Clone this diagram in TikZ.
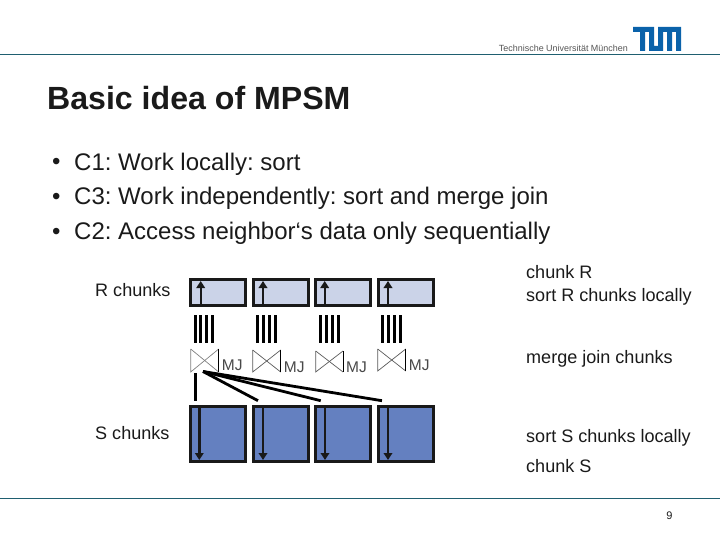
\documentclass[tikz,border=0pt]{standalone}
\usepackage{fontspec}
\setmainfont{Liberation Sans}
\usetikzlibrary{arrows.meta}
\frenchspacing
\definecolor{rline}{HTML}{1F5F70}
\definecolor{rfill}{HTML}{CBD3E8}
\definecolor{sfill}{HTML}{6480C0}
\definecolor{tumblue}{HTML}{0A62AA}
\definecolor{ink}{HTML}{1A1A1A}
\tikzset{
  chunkbox/.style={draw=black!90,line width=3.3pt,fill=#1,inner sep=0pt,outer sep=0pt,anchor=north west},
  bar/.style={draw=black,line width=3pt},
  flow/.style={draw=black!90,line width=2.4pt,-{Triangle[length=7pt,width=8.5pt]}},
  link/.style={draw=black,line width=2.8pt},
  tie/.style={draw=#1,line width=0.7pt},
  body/.style={font=\fontsize{24}{28}\selectfont,text=ink,anchor=west,inner sep=0pt},
  small/.style={font=\fontsize{18.05}{21}\selectfont,text=ink,anchor=west,inner sep=0pt},
  mj/.style={font=\fontsize{15.5}{18}\selectfont,text=ink!80,anchor=west,inner sep=0pt},
}
\begin{document}
\begin{tikzpicture}[x=1pt,y=-1pt]
\useasboundingbox (0,0) rectangle (720,540);
% frame
\draw[rline,line width=0.9pt] (0,54.5) -- (720,54.5);
\draw[rline,line width=0.9pt] (0,498) -- (720,498);
\node[anchor=east,inner sep=0pt,font=\fontsize{8.95}{11}\selectfont,text=ink!75] (uni) at (628,48) {Technische Universität München};
% logo
\fill[tumblue] (633,27) -- (654,27) -- (654,46) -- (658,46) -- (658,27) -- (681,27) -- (681,51) -- (676,51) -- (676,32) -- (672,32) -- (672,51) -- (667,51) -- (667,32) -- (663,32) -- (663,51) -- (649,51) -- (649,32) -- (645,32) -- (645,51) -- (640,51) -- (640,32) -- (633,32) -- cycle;
% title
\node[anchor=west,inner sep=0pt,font=\bfseries\fontsize{32.1}{36}\selectfont,text=ink] (title) at (47,98) {Basic idea of MPSM};
% bullets
\node[body] (d1) at (52,164) {•};
\node[body] (d2) at (52,198.5) {•};
\node[body] (d3) at (52,233.5) {•};
\node[body] (b1) at (74,164) {C1: Work locally: sort};
\node[body] (b2) at (74,198.5) {C3: Work independently: sort and merge join};
\node[body] (b3) at (74,233.5) {C2: Access neighbor‘s data only sequentially};
% chunk boxes
\foreach \n/\x in {1/190.7,2/253.7,3/315.7,4/378.7}{
  \node[chunkbox=rfill,minimum width=55pt,minimum height=26pt] (r\n) at (\x,279.7) {};
  \node[chunkbox=sfill,minimum width=55pt,minimum height=55pt] (s\n) at (\x,406.7) {};
}
% arrows inside boxes
\foreach \n/\x in {1/200.7,2/263,3/324.7,4/388}{
  \coordinate (ru\n) at (\x,305); \coordinate (rv\n) at (\x,281);
  \draw[flow] (ru\n) -- (rv\n);
}
\foreach \n/\x in {1/199.3,2/263,3/325,4/388}{
  \coordinate (su\n) at (\x,408); \coordinate (sv\n) at (\x,460);
  \draw[flow] (su\n) -- (sv\n);
}
% bars
\foreach \x in {195,200.8,206.8,212.7,257.3,263.3,269.3,275.3,320,326,332,338,382,388,394,400}{
  \coordinate (bt) at (\x,315); \coordinate (bb) at (\x,343);
  \draw[bar] (bt) -- (bb);
}
% bowties
\foreach \n/\l/\r/\t/\b/\my/\c in {1/190.7/218.7/349/372/365/gray,2/252.7/280.7/350/372/367/gray!70!black,3/315.7/343/351/372/367/gray!70!black,4/377.7/405.7/349/371/365/gray!70!black}{
  \coordinate (a\n) at (\l,\t); \coordinate (c\n) at (\r,\t);
  \coordinate (e\n) at (\l,\b); \coordinate (g\n) at (\r,\b);
  \draw[tie=\c] (a\n) -- (e\n) -- (c\n);
  \draw[tie=\c] (a\n) -- (g\n);
  \draw[tie=black] (c\n) -- (g\n);
  \node[mj] (mj\n) at (\r+3,\my) {MJ};
}
% merge links
\coordinate (h1) at (203,371.5);
\coordinate (t0a) at (195.3,373); \coordinate (t0b) at (195.3,400.7);
\coordinate (t2) at (258,400.7); \coordinate (t3) at (320.7,400.7); \coordinate (t4) at (382,400.7);
\draw[link] (t0a) -- (t0b);
\draw[link] (h1) -- (t2);
\draw[link] (h1) -- (t3);
\draw[link] (h1) -- (t4);
% labels
\node[small] (lr) at (95,290.5) {R chunks};
\node[small] (ls) at (95,433) {S chunks};
\node[small] (t1) at (526,272.5) {chunk R};
\node[small] (t2b) at (526,297) {sort R chunks locally};
\node[small] (t3b) at (526,359) {merge join chunks};
\node[small] (t4b) at (526,438) {sort S chunks locally};
\node[small] (t5b) at (526,466) {chunk S};
\node[inner sep=0pt,font=\fontsize{11}{13}\selectfont,text=ink] (pg) at (669.5,515.5) {9};
\end{tikzpicture}
\end{document}
